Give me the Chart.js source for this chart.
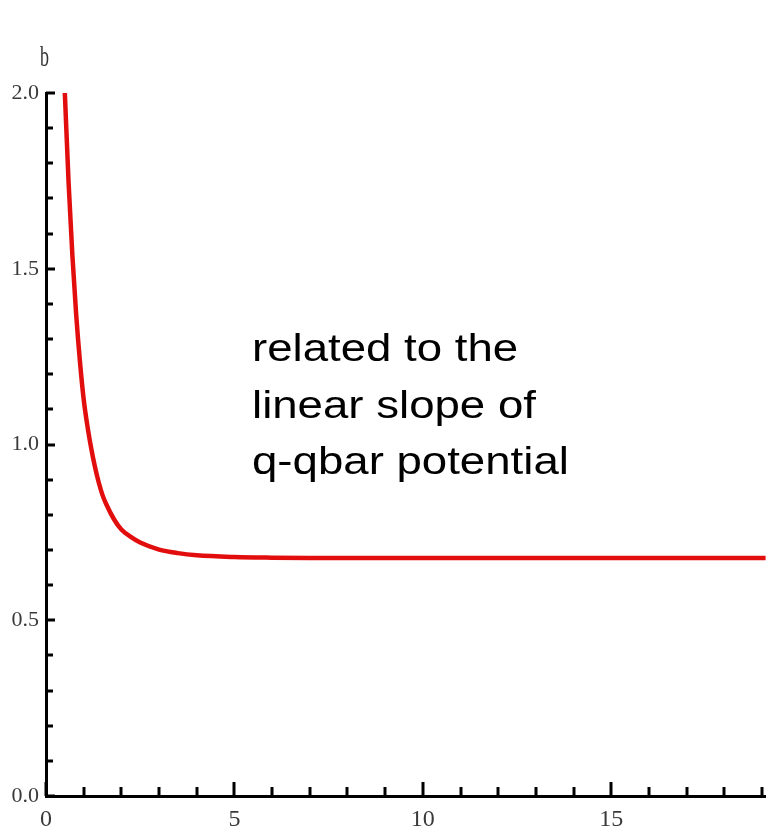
<!DOCTYPE html>
<html>
<head>
<meta charset="utf-8">
<script src="https://cdn.jsdelivr.net/npm/chart.js@4"></script>
<style>
  html, body { margin: 0; padding: 0; background: #fff; }
  #wrap { width: 771px; height: 839px; }
</style>
</head>
<body>
<div id="wrap"><canvas id="slope"></canvas></div>
<script>
// b(x) samples
const xVals = [0.5, 0.6, 0.7, 0.8, 0.9, 1.0, 1.1, 1.2, 1.3, 1.4, 1.5, 1.6, 1.8, 2.0, 2.25, 2.5, 3.0, 3.5, 4.0, 5.0, 6.0, 7.0, 10, 13, 16, 19.1];
const bVals = [2.0, 1.744, 1.538, 1.371, 1.237, 1.129, 1.052, 0.989, 0.936, 0.892, 0.856, 0.830, 0.788, 0.758, 0.737, 0.721, 0.701, 0.691, 0.685, 0.680, 0.678, 0.677, 0.677, 0.677, 0.677, 0.677];

// axis settings
const xRange = [0, 19.1];
const yRange = [0, 2.0];
const xMajorEvery = 5;
const yMajorEvery = 0.5;

const axisLabel = 'b';
const noteLines = ['related to the', 'linear slope of', 'q-qbar potential'];

const isMultiple = (v, step) => Math.abs(v / step - Math.round(v / step)) < 1e-6;

// tick marks drawn inward from the axis lines
const inwardTicks = {
    id: 'inwardTicks',
    afterDraw(chart) {
        const ctx = chart.ctx;
        const area = chart.chartArea;
        const xs = chart.scales.x;
        const ys = chart.scales.y;
        ctx.save();
        ctx.strokeStyle = '#000';
        ctx.lineWidth = 3;
        xs.ticks.forEach(t => {
            const px = Math.round(xs.getPixelForValue(t.value));
            const len = isMultiple(t.value, xMajorEvery) ? 14 : 9;
            ctx.beginPath();
            ctx.moveTo(px, area.bottom);
            ctx.lineTo(px, area.bottom - len);
            ctx.stroke();
        });
        ys.ticks.forEach(t => {
            const py = Math.round(ys.getPixelForValue(t.value));
            const len = isMultiple(t.value, yMajorEvery) ? 9 : 7;
            ctx.beginPath();
            ctx.moveTo(area.left, py);
            ctx.lineTo(area.left + len, py);
            ctx.stroke();
        });
        ctx.restore();
    }
};

// axis name and the note inside the plot
const notes = {
    id: 'notes',
    afterDraw(chart) {
        const ctx = chart.ctx;
        ctx.save();
        ctx.fillStyle = '#333';
        ctx.font = '18px "Liberation Serif", serif';
        ctx.translate(40, 66);
        ctx.scale(1, 1.6);
        ctx.fillText(axisLabel, 0, 0);
        ctx.restore();

        ctx.save();
        ctx.fillStyle = '#000';
        ctx.font = '38px "Liberation Sans", Arial, sans-serif';
        const baselines = [361, 418, 474];
        noteLines.forEach((line, i) => {
            ctx.save();
            ctx.translate(252, baselines[i]);
            ctx.scale(1.2, 1);
            ctx.fillText(line, 0, 0);
            ctx.restore();
        });
        ctx.restore();
    }
};

const ctx = document.getElementById('slope').getContext('2d');
const chart = new Chart(ctx, {
    type: 'line',
    data: {
        datasets: [{
            data: xVals.map((x, i) => ({ x: x, y: bVals[i] })),
            borderColor: 'rgb(226, 14, 14)',
            borderWidth: 4.5,
            pointRadius: 0,
            fill: false,
            cubicInterpolationMode: 'monotone'
        }]
    },
    options: {
        responsive: true,
        maintainAspectRatio: false,
        animation: false,
        layout: { padding: { top: 93, right: 0, bottom: 0, left: 0 } },
        plugins: {
            legend: { display: false },
            tooltip: { enabled: false }
        },
        scales: {
            x: {
                type: 'linear',
                min: xRange[0],
                max: xRange[1],
                grid: { display: false, drawTicks: false },
                border: { display: true, color: '#000', width: 3 },
                afterFit: s => { s.height = 43; },
                ticks: {
                    stepSize: 1,
                    includeBounds: false,
                    autoSkip: false,
                    maxRotation: 0,
                    padding: 9,
                    color: '#3a3a3a',
                    font: { family: '"Liberation Serif", serif', size: 24 },
                    callback: v => isMultiple(v, xMajorEvery) ? String(Math.round(v)) : ''
                }
            },
            y: {
                type: 'linear',
                min: yRange[0],
                max: yRange[1],
                grid: { display: false, drawTicks: false },
                border: { display: true, color: '#000', width: 3 },
                afterFit: s => { s.width = 46; },
                ticks: {
                    stepSize: 0.1,
                    autoSkip: false,
                    padding: 7,
                    color: '#3a3a3a',
                    font: { family: '"Liberation Serif", serif', size: 22 },
                    callback: v => isMultiple(v, yMajorEvery) ? v.toFixed(1) : ''
                }
            }
        }
    },
    plugins: [inwardTicks, notes]
});
</script>
</body>
</html>
